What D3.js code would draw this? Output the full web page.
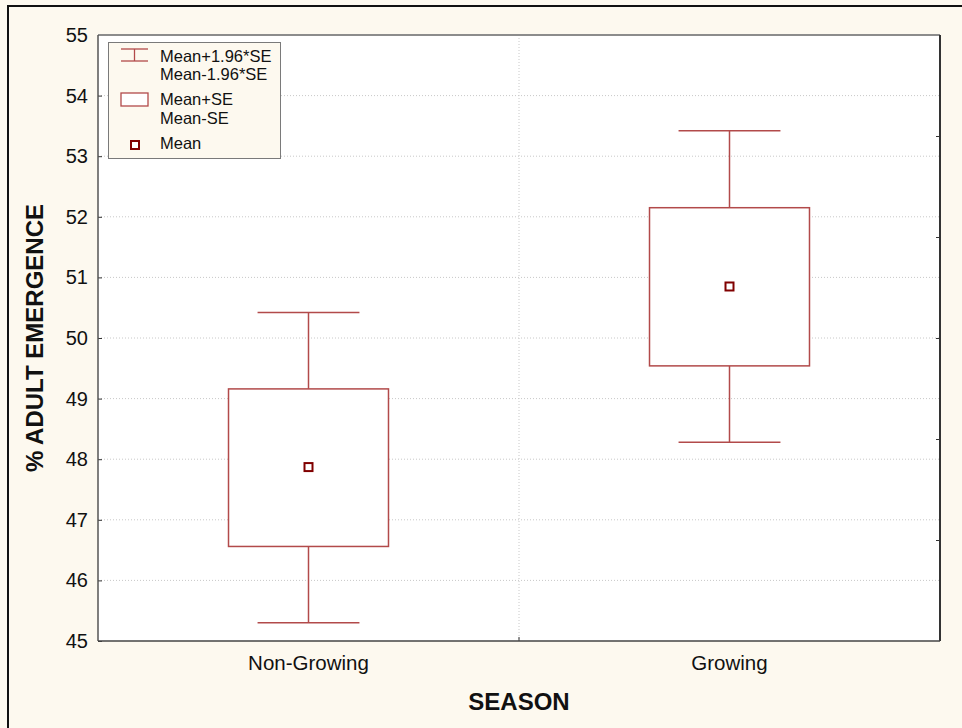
<!DOCTYPE html>
<html>
<head>
<meta charset="utf-8">
<script src="https://cdn.jsdelivr.net/npm/d3@7"></script>
<style>
  body { margin: 0; background: #fdf9ef; }
  svg { display: block; font-family: Arial, "Liberation Sans", sans-serif; }
</style>
</head>
<body>
<svg id="chart" width="962" height="728"></svg>
<script>
// values
const categories = ["Non-Growing", "Growing"];
const means = [47.87, 50.85];
const seUpper = [49.16, 52.15];
const seLower = [46.56, 49.54];
const ciUpper = [50.42, 53.42];
const ciLower = [45.30, 48.28];
const yTicks = [45, 46, 47, 48, 49, 50, 51, 52, 53, 54, 55];
const rightTicks = [1, 2, 3, 4, 5];

const W = 962, H = 728;
const margin = { top: 35, right: 22, bottom: 87, left: 98 };
const BOX_COLOR = "#b24a4a";
const MEAN_COLOR = "#800000";

const svg = d3.select("#chart");

// outer frame
svg.append("rect")
    .attr("x", 8).attr("y", 6)
    .attr("width", W + 10).attr("height", H + 10)
    .attr("fill", "#fdf9ef")
    .attr("stroke", "#111").attr("stroke-width", 2);

const x = d3.scaleBand()
    .domain(categories)
    .range([margin.left, W - margin.right]);

const y = d3.scaleLinear()
    .domain([45, 55])
    .range([H - margin.bottom, margin.top]);

// right axis has its own tick spacing
const yRight = d3.scaleLinear()
    .domain([0, 6])
    .range([H - margin.bottom, margin.top]);

const plotL = margin.left, plotR = W - margin.right;
const plotT = margin.top, plotB = H - margin.bottom;

// plot background
svg.append("rect")
    .attr("x", plotL).attr("y", plotT)
    .attr("width", plotR - plotL).attr("height", plotB - plotT)
    .attr("fill", "#ffffff");

// grid lines
svg.append("g")
    .selectAll("line")
    .data(yTicks.slice(1, -1))
    .join("line")
    .attr("x1", plotL).attr("x2", plotR)
    .attr("y1", d => y(d)).attr("y2", d => y(d))
    .attr("stroke", "#c8c8c8")
    .attr("stroke-dasharray", "1,2");

const midX = x(categories[1]);
svg.append("line")
    .attr("x1", midX).attr("x2", midX)
    .attr("y1", plotT).attr("y2", plotB)
    .attr("stroke", "#c8c8c8")
    .attr("stroke-dasharray", "1,2");

// left axis (ticks inside)
const yAxis = svg.append("g")
    .attr("transform", `translate(${plotL},0)`)
    .call(d3.axisLeft(y).tickValues(yTicks).tickSizeInner(-4).tickSizeOuter(0).tickPadding(10));
yAxis.select(".domain").remove();
yAxis.selectAll(".tick line").attr("stroke", "#333");
yAxis.selectAll(".tick text")
    .attr("font-size", 20)
    .attr("fill", "#111")
    .attr("font-family", "Arial, 'Liberation Sans', sans-serif");

// right axis ticks
const yAxisR = svg.append("g")
    .attr("transform", `translate(${plotR},0)`)
    .call(d3.axisRight(yRight).tickValues(rightTicks).tickSizeInner(-4).tickSizeOuter(0).tickFormat(""));
yAxisR.select(".domain").remove();
yAxisR.selectAll(".tick line").attr("stroke", "#333");

// bottom axis
const xAxis = svg.append("g")
    .attr("transform", `translate(0,${plotB})`)
    .call(d3.axisBottom(x).tickSize(0).tickPadding(14));
xAxis.select(".domain").remove();
xAxis.selectAll(".tick text")
    .attr("font-size", 20.5)
    .attr("fill", "#111")
    .attr("font-family", "Arial, 'Liberation Sans', sans-serif");
svg.append("line")
    .attr("x1", midX).attr("x2", midX)
    .attr("y1", plotB).attr("y2", plotB - 4)
    .attr("stroke", "#333");

// plot border: lighter top, darker other sides
svg.append("line").attr("x1", plotL).attr("x2", plotR).attr("y1", plotT).attr("y2", plotT)
    .attr("stroke", "#8c8c8c").attr("stroke-width", 2);
svg.append("line").attr("x1", plotL).attr("x2", plotL).attr("y1", plotT).attr("y2", plotB)
    .attr("stroke", "#555").attr("stroke-width", 1.5);
svg.append("line").attr("x1", plotR).attr("x2", plotR).attr("y1", plotT).attr("y2", plotB)
    .attr("stroke", "#333").attr("stroke-width", 2);
svg.append("line").attr("x1", plotL).attr("x2", plotR).attr("y1", plotB).attr("y2", plotB)
    .attr("stroke", "#444").attr("stroke-width", 1.5);

// boxes and whiskers
const bw = x.bandwidth();
const boxW = bw * 0.38;
const capW = bw * 0.242;
const g = svg.append("g");

categories.forEach((c, i) => {
    const cx = x(c) + bw / 2;
    // whiskers
    g.append("line")
        .attr("x1", cx).attr("x2", cx)
        .attr("y1", y(ciUpper[i])).attr("y2", y(seUpper[i]))
        .attr("stroke", BOX_COLOR).attr("stroke-width", 1.5);
    g.append("line")
        .attr("x1", cx).attr("x2", cx)
        .attr("y1", y(seLower[i])).attr("y2", y(ciLower[i]))
        .attr("stroke", BOX_COLOR).attr("stroke-width", 1.5);
    [ciUpper[i], ciLower[i]].forEach(v => {
        g.append("line")
            .attr("x1", cx - capW / 2).attr("x2", cx + capW / 2)
            .attr("y1", y(v)).attr("y2", y(v))
            .attr("stroke", BOX_COLOR).attr("stroke-width", 1.5);
    });
    // SE box
    g.append("rect")
        .attr("x", cx - boxW / 2).attr("y", y(seUpper[i]))
        .attr("width", boxW).attr("height", y(seLower[i]) - y(seUpper[i]))
        .attr("fill", "#fff")
        .attr("stroke", BOX_COLOR).attr("stroke-width", 1.5);
    // mean marker
    g.append("rect")
        .attr("x", cx - 4).attr("y", y(means[i]) - 4)
        .attr("width", 8).attr("height", 8)
        .attr("fill", "#fff")
        .attr("stroke", MEAN_COLOR).attr("stroke-width", 2);
});

// legend
const lg = svg.append("g").attr("transform", "translate(108,42)");
lg.append("rect")
    .attr("x", 0.5).attr("y", 0.5)
    .attr("width", 172).attr("height", 116)
    .attr("fill", "#fdf9ef")
    .attr("stroke", "#7a7a7a");

// whisker icon
lg.append("line").attr("x1", 13).attr("x2", 40).attr("y1", 7).attr("y2", 7)
    .attr("stroke", BOX_COLOR).attr("stroke-width", 1.3);
lg.append("line").attr("x1", 13).attr("x2", 40).attr("y1", 19).attr("y2", 19)
    .attr("stroke", BOX_COLOR).attr("stroke-width", 1.3);
lg.append("line").attr("x1", 26.5).attr("x2", 26.5).attr("y1", 7).attr("y2", 19)
    .attr("stroke", BOX_COLOR).attr("stroke-width", 1.3);
// box icon
lg.append("rect").attr("x", 13).attr("y", 51).attr("width", 27).attr("height", 13)
    .attr("fill", "#fff").attr("stroke", BOX_COLOR).attr("stroke-width", 1.3);
// mean icon
lg.append("rect").attr("x", 23).attr("y", 99).attr("width", 8).attr("height", 8)
    .attr("fill", "#fff").attr("stroke", MEAN_COLOR).attr("stroke-width", 2);

const legendText = [
    ["Mean+1.96*SE", 20], ["Mean-1.96*SE", 38],
    ["Mean+SE", 63], ["Mean-SE", 82], ["Mean", 107]
];
lg.selectAll("text.leg")
    .data(legendText)
    .join("text")
    .attr("class", "leg")
    .attr("x", 52).attr("y", d => d[1])
    .attr("font-size", 16.5)
    .attr("fill", "#111")
    .text(d => d[0]);

// axis titles
svg.append("text")
    .attr("x", (plotL + plotR) / 2).attr("y", 710)
    .attr("text-anchor", "middle")
    .attr("font-size", 24).attr("font-weight", "bold")
    .attr("fill", "#111")
    .text("SEASON");

svg.append("text")
    .attr("transform", `translate(43,${(plotT + plotB) / 2}) rotate(-90)`)
    .attr("text-anchor", "middle")
    .attr("font-size", 24).attr("font-weight", "bold")
    .attr("fill", "#111")
    .text("% ADULT EMERGENCE");
</script>
</body>
</html>
